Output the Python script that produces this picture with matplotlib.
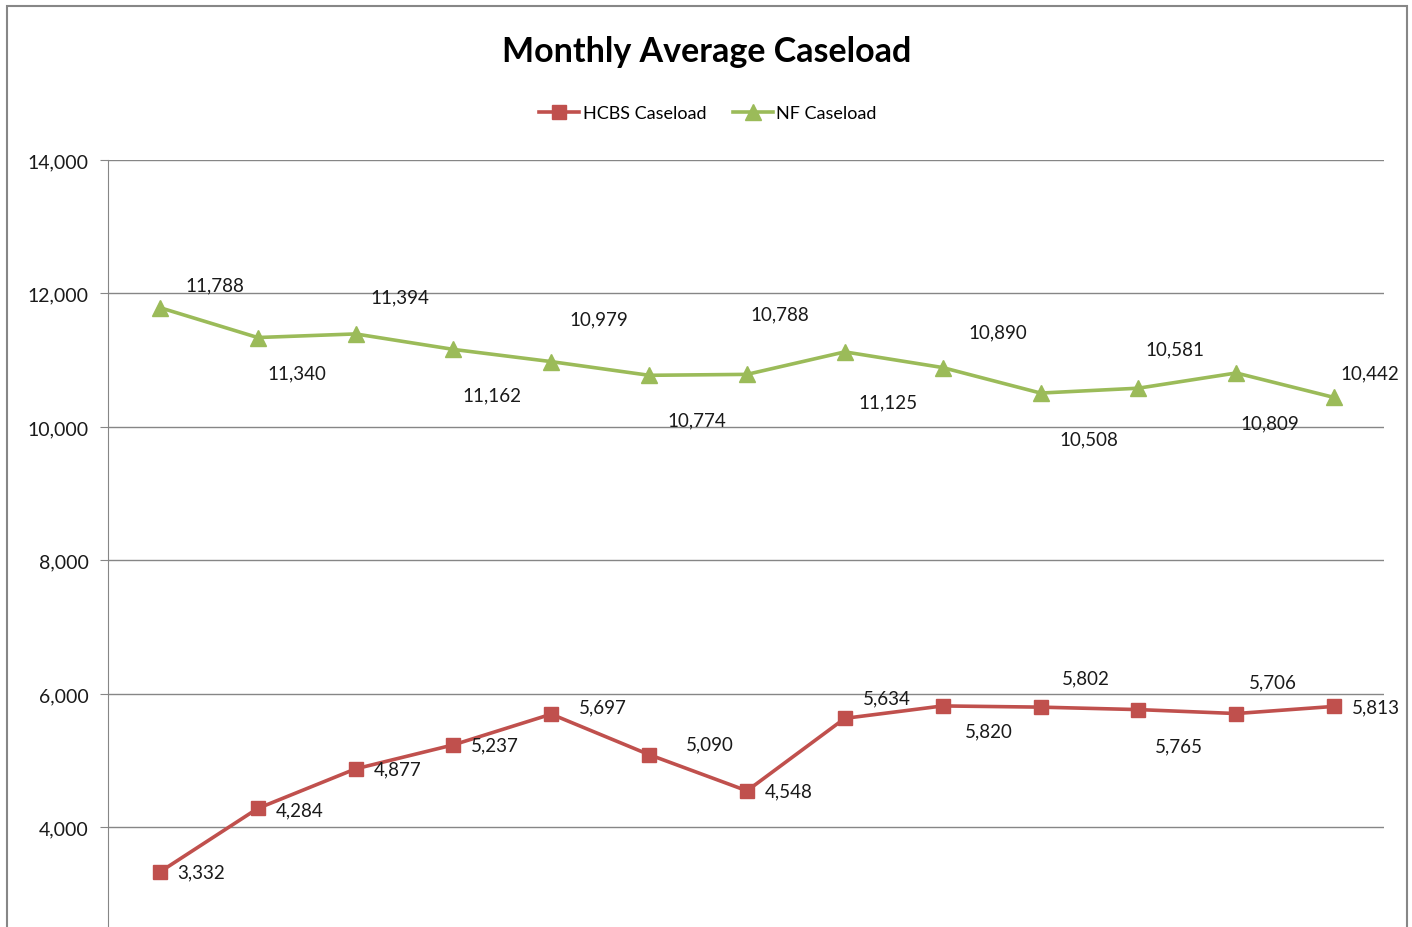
import matplotlib
matplotlib.use("Agg")
import matplotlib.pyplot as plt
from matplotlib.patches import Rectangle
from matplotlib.ticker import FuncFormatter

plt.rcParams['font.family'] = ['Lato', 'DejaVu Sans']

# data
months = list(range(1, 14))
hcbs = [3332, 4284, 4877, 5237, 5697, 5090, 4548, 5634, 5820, 5802, 5765, 5706, 5813]
nf = [11788, 11340, 11394, 11162, 10979, 10774, 10788, 11125, 10890, 10508, 10581, 10809, 10442]

# label offsets in pixels (dx, dy) from each point, dy positive = up
hcbs_off = [(41, 0), (42, -1), (42, 0), (41, 0), (52, 7), (61, 11), (42, 0),
            (42, 20), (46, -25), (45, 29), (41, -36), (37, 32), (42, 0)]
nf_off = [(55, 23), (39, -35), (44, 37), (39, -45), (48, 43), (48, -45), (33, 60),
          (43, -50), (55, 36), (48, -46), (37, 39), (34, -50), (36, 25)]

red = '#C0504D'
green = '#9BBB59'

fig = plt.figure(figsize=(14.12, 9.28), dpi=100)
ax = fig.add_axes([108 / 1412, -0.0365, (1384 - 108) / 1412, 0.863])

x = [m - 0.5 for m in months]
ax.plot(x, hcbs, color=red, lw=2.6, marker='s', ms=10.5, label='HCBS Caseload', zorder=3)
ax.plot(x, nf, color=green, lw=2.6, marker='^', ms=11, label='NF Caseload', zorder=3)

for xi, v, (dx, dy) in zip(x, hcbs, hcbs_off):
    ax.annotate(f"{v:,}", (xi, v), xytext=(dx, dy), textcoords='offset pixels',
                ha='center', va='center', fontsize=13.5, color='#1a1a1a')
for xi, v, (dx, dy) in zip(x, nf, nf_off):
    ax.annotate(f"{v:,}", (xi, v), xytext=(dx, dy), textcoords='offset pixels',
                ha='center', va='center', fontsize=13.5, color='#1a1a1a')

ax.set_xlim(-0.03, 13.01)
ax.set_ylim(2000, 14000)
ax.set_yticks(range(4000, 14001, 2000))
ax.yaxis.set_major_formatter(FuncFormatter(lambda v, p: f"{int(v):,}"))
ax.grid(axis='y', color='#868686', lw=1)
ax.set_axisbelow(True)
ax.set_xticks([])
for s in ['top', 'right', 'bottom']:
    ax.spines[s].set_visible(False)
ax.spines['left'].set_color('#868686')
ax.tick_params(axis='y', length=6, color='#868686', labelsize=14, pad=8, labelcolor='#1a1a1a')

fig.suptitle('Monthly Average Caseload', y=1 - 52 / 928, va='center',
             fontsize=24.5, fontweight='bold', x=707 / 1412)
fig.legend(loc='center', bbox_to_anchor=(708 / 1412, 1 - 114 / 928), ncol=2,
           frameon=False, fontsize=13, handlelength=2.2, columnspacing=1.5,
           handletextpad=0.2)

fig.patches.append(Rectangle((7 / 1412, -0.1), 1400 / 1412, 1.1 - 7 / 928,
                             transform=fig.transFigure, fill=False,
                             edgecolor='#878787', lw=1.5))

fig.savefig('out.png', dpi=100)
